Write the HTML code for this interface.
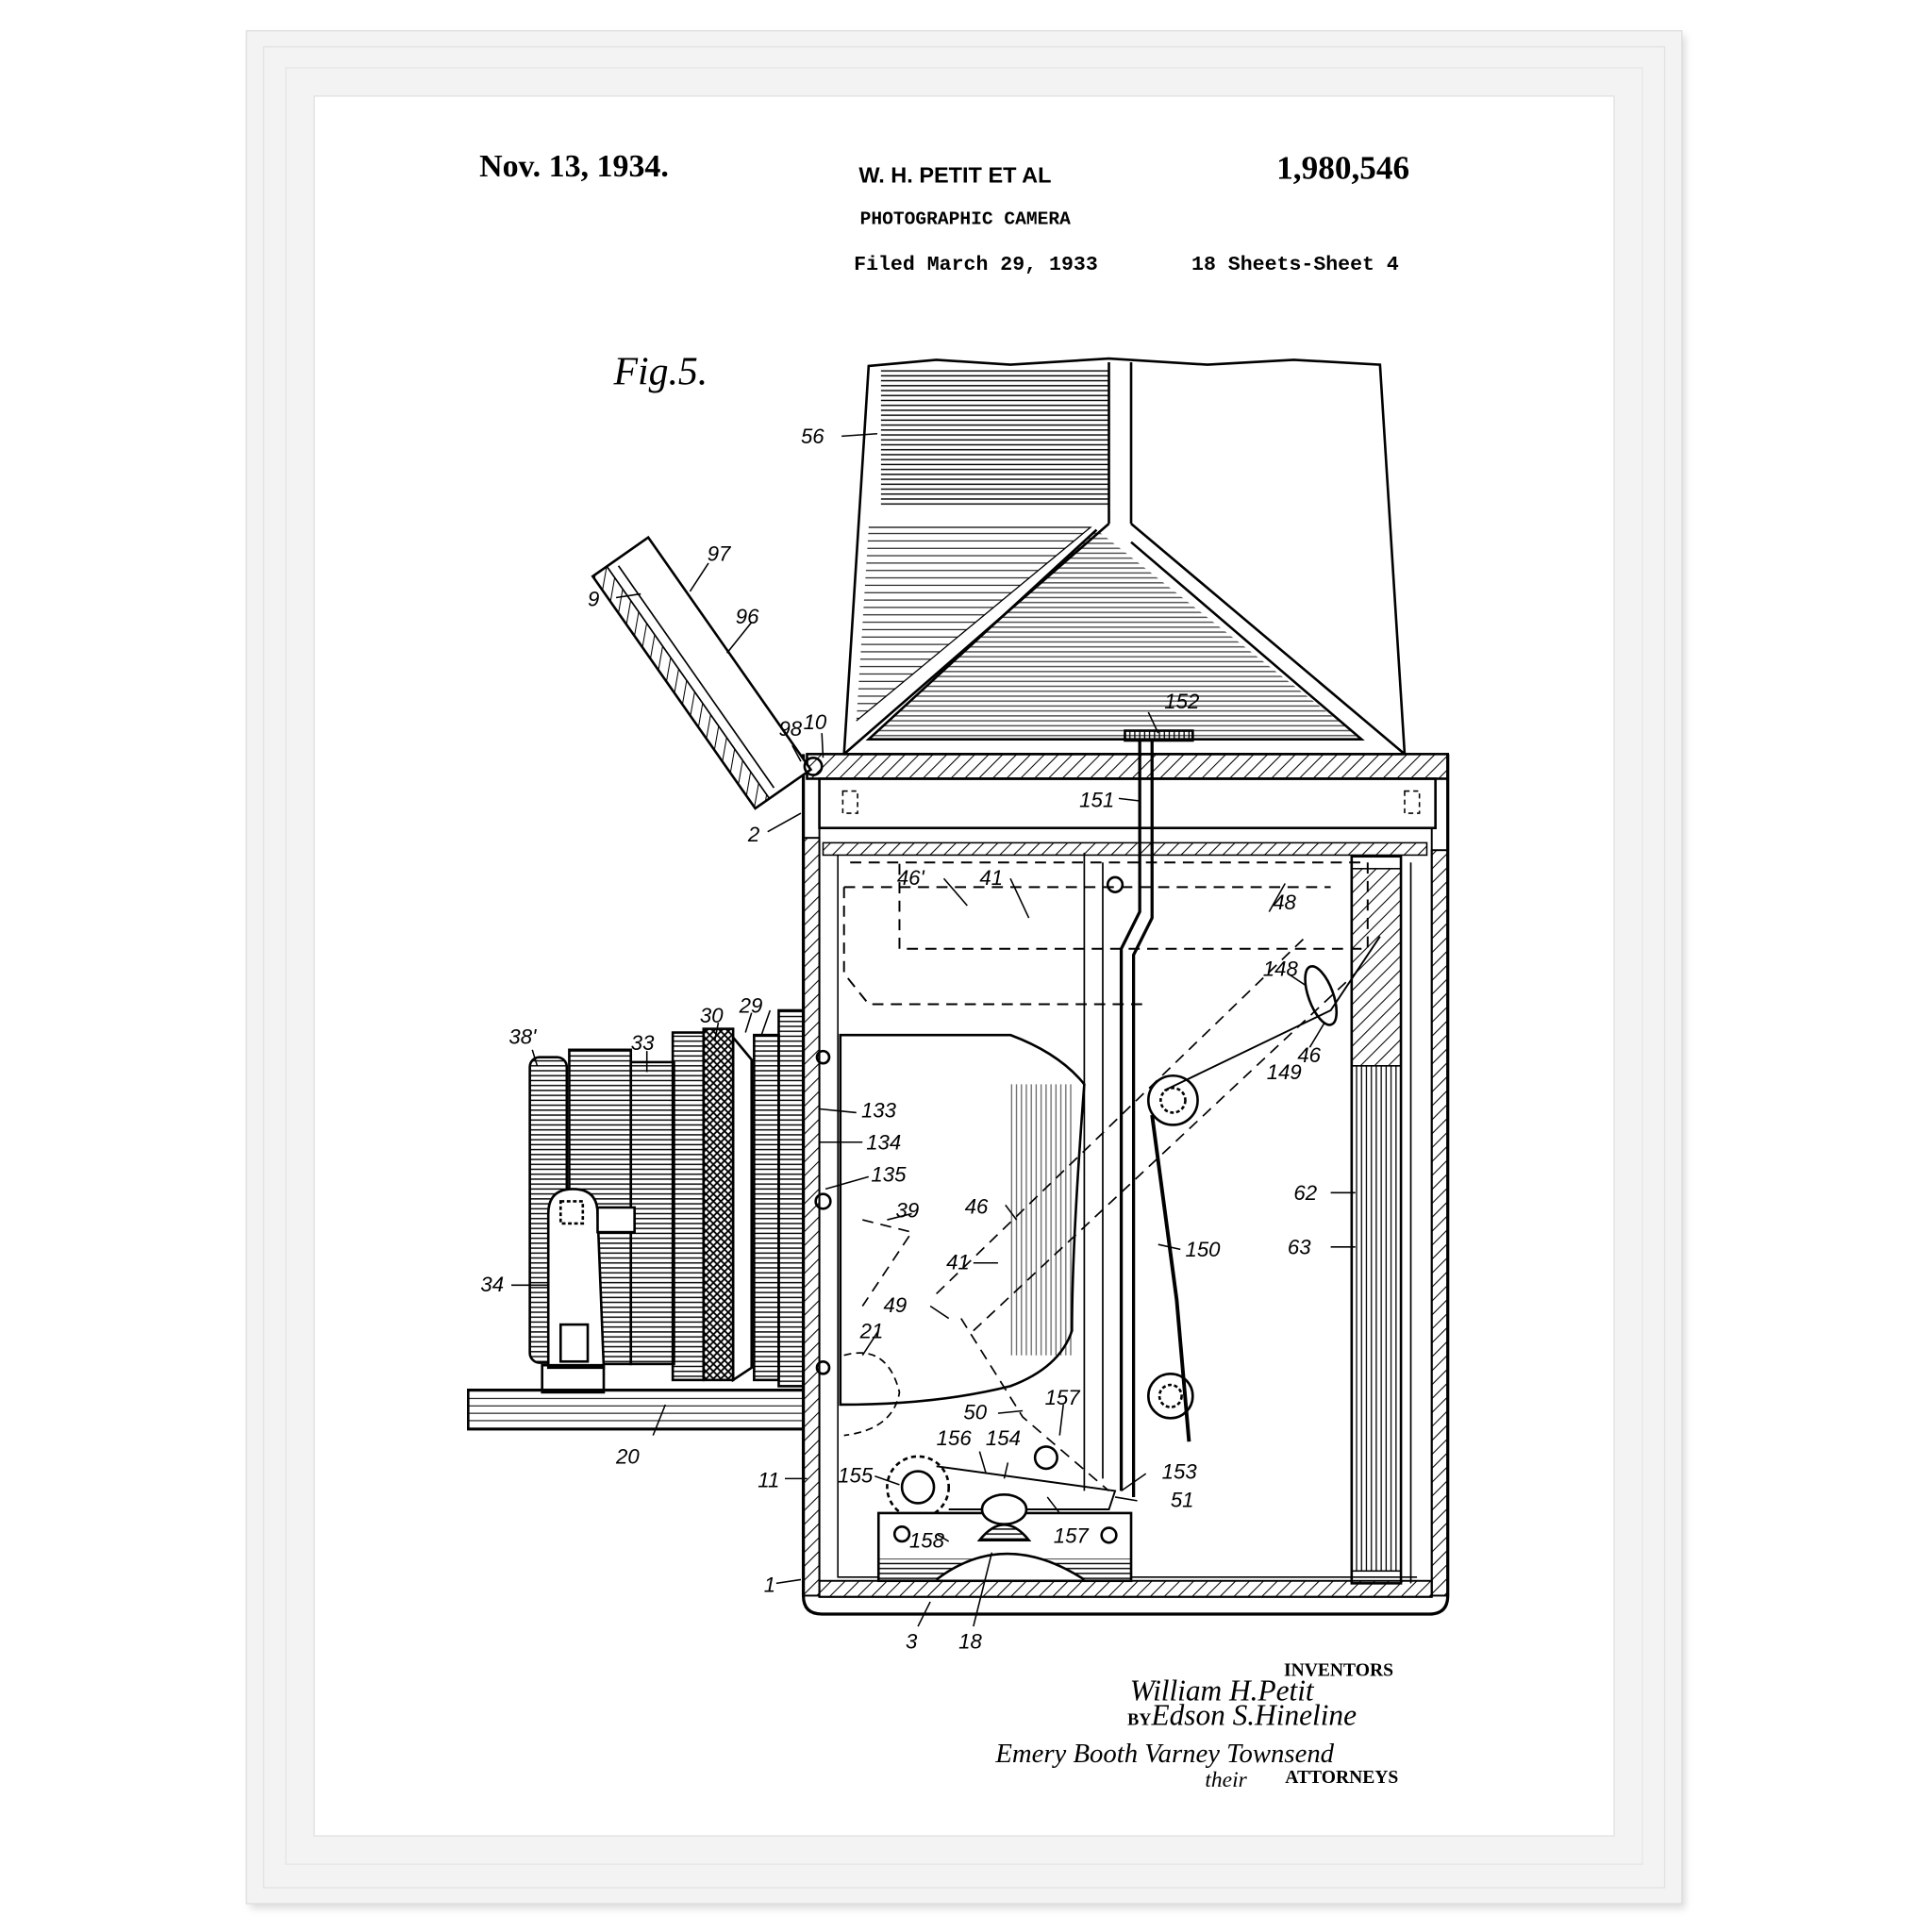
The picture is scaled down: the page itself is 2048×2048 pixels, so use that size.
<!DOCTYPE html>
<html><head><meta charset="utf-8"><style>
html,body{margin:0;padding:0;background:#fff;}
svg{display:block;}
</style></head><body>
<svg width="2048" height="2048" viewBox="0 0 1568 1568" xmlns="http://www.w3.org/2000/svg">
<defs>
<pattern id="diag" width="8" height="8" patternUnits="userSpaceOnUse" patternTransform="rotate(45)"><line x1="0" y1="0" x2="0" y2="8" stroke="#000" stroke-width="1.6"/></pattern>
<pattern id="hor" width="6" height="4" patternUnits="userSpaceOnUse"><line x1="0" y1="1" x2="6" y2="1" stroke="#000" stroke-width="1.1"/></pattern>
<pattern id="vert" width="4" height="6" patternUnits="userSpaceOnUse"><line x1="1" y1="0" x2="1" y2="6" stroke="#000" stroke-width="1"/></pattern>
<pattern id="xh" width="6" height="6" patternUnits="userSpaceOnUse"><path d="M0 0L6 6M6 0L0 6" stroke="#000" stroke-width="1.4"/></pattern>
<pattern id="hsp" width="8" height="6" patternUnits="userSpaceOnUse"><line x1="0" y1="1" x2="8" y2="1" stroke="#000" stroke-width="0.8"/></pattern>
<filter id="sh"><feGaussianBlur stdDeviation="3"/></filter>
</defs>
<rect width="1568" height="1568" fill="#fff"/>
<rect x="203" y="29" width="1165" height="1520" fill="#bbb" filter="url(#sh)" opacity="0.5"/>
<rect x="200" y="25" width="1165" height="1520" fill="#f3f3f3" stroke="#ddd"/>
<rect x="214" y="38" width="1137" height="1494" fill="none" stroke="#e2e2e2"/>
<rect x="232" y="55" width="1101" height="1458" fill="none" stroke="#e6e6e6"/>
<rect x="255" y="78" width="1055" height="1412" fill="#fff" stroke="#e0e0e0"/>

<g font-family="Liberation Serif, serif" font-weight="bold" fill="#000">
<text x="389" y="143" font-size="26">Nov. 13, 1934.</text>
<text x="1036" y="145" font-size="27">1,980,546</text>
</g>
<g font-family="Liberation Sans, sans-serif" font-weight="bold" fill="#000">
<text x="697" y="148" font-size="18">W. H. PETIT  ET AL</text>
</g>
<g font-family="Liberation Mono, monospace" font-weight="bold" fill="#000" font-size="15">
<text x="698" y="182">PHOTOGRAPHIC CAMERA</text>
<text x="693" y="219" font-size="16.5">Filed March 29, 1933</text>
<text x="967" y="219" font-size="16.5">18 Sheets-Sheet 4</text>
</g>
<text x="498" y="312" font-family="Liberation Serif, serif" font-style="italic" font-size="32" fill="#000">Fig.5.</text>

<g fill="none" stroke="#000" stroke-width="2">
<path d="M705 297 L760 292 L820 296 L900 291 L980 296 L1050 292 L1120 296 L1140 612 L685 612 Z" fill="#fff"/>
<rect x="715" y="300" width="185" height="112" fill="url(#hor)" stroke="none"/>
<path d="M900 294 L900 425 M918 294 L918 425"/>
<path d="M900 425 L685 612 M918 425 L1140 612"/>
<path d="M890 430 L705 600 L1105 600 L918 440" />
<path d="M890 430 L705 600 L1105 600 Z" stroke="none" fill="url(#hor)" opacity="0.7"/>
<path d="M705 428 L885 428 L695 585" fill="url(#hsp)" stroke-width="1"/>
<rect x="655" y="612" width="520" height="20" fill="url(#diag)"/>
<rect x="665" y="632" width="500" height="40"/>
<rect x="684" y="642" width="12" height="18" stroke-dasharray="4 3" stroke-width="1.2"/>
<rect x="1140" y="642" width="12" height="18" stroke-dasharray="4 3" stroke-width="1.2"/>
<path d="M652 612 L652 1295 Q652 1310 667 1310 L1160 1310 Q1175 1310 1175 1295 L1175 612" stroke-width="2.5"/>
<path d="M665 672 L665 1296 L1162 1296 L1162 672" stroke-width="1.5"/>
<rect x="652" y="680" width="13" height="615" fill="url(#diag)" stroke-width="1.5"/>
<rect x="665" y="1283" width="497" height="13" fill="url(#diag)" stroke-width="1.5"/>
<rect x="1162" y="690" width="13" height="605" fill="url(#diag)" stroke-width="1.5"/>
<rect x="668" y="684" width="490" height="10" fill="url(#diag)" stroke-width="1.2"/>
<path d="M680 694 L680 1280 L1150 1280" stroke-width="1.2"/>
<g transform="rotate(-35 640 625)">
<rect x="600" y="405" width="55" height="230" fill="#fff"/>
<rect x="600" y="405" width="14" height="230" fill="url(#diag)" stroke-width="1.3"/>
<line x1="622" y1="410" x2="622" y2="630" stroke-width="1.3"/>
</g>
<circle cx="660" cy="622" r="7"/>
<rect x="430" y="858" width="30" height="248" rx="8" fill="url(#hor)"/>
<rect x="462" y="852" width="50" height="255" fill="url(#hor)"/>
<rect x="512" y="862" width="35" height="245" fill="url(#hor)"/>
<rect x="546" y="838" width="25" height="282" fill="url(#hor)"/>
<rect x="571" y="835" width="24" height="285" fill="url(#xh)"/>
<path d="M595 842 L610 860 L610 1110 L595 1120 Z"/>
<rect x="612" y="840" width="20" height="280" fill="url(#hor)"/>
<rect x="632" y="820" width="20" height="305" fill="url(#hor)"/>
<path d="M445 1110 L445 985 Q445 965 465 965 Q485 965 485 985 L490 1110 Z" fill="#fff"/>
<rect x="455" y="975" width="18" height="18" stroke-dasharray="3 2"/>
<rect x="485" y="980" width="30" height="20" fill="#fff"/>
<rect x="455" y="1075" width="22" height="30"/>
<rect x="440" y="1108" width="50" height="22"/>
<rect x="380" y="1128" width="272" height="32" fill="url(#hsp)"/>
<path d="M682 840 L820 840 Q860 855 880 880 Q870 1010 870 1080 Q860 1110 820 1125 Q760 1140 682 1140 Z" fill="#fff"/>
<rect x="820" y="880" width="50" height="220" fill="url(#vert)" stroke="none" opacity="0.6"/>
<path d="M685 720 L1080 720 M685 720 L685 790 L705 815 L930 815" stroke-dasharray="9 6" stroke-width="1.5"/>
<path d="M690 700 L1110 700 L1110 770 L730 770 L730 700" stroke-dasharray="9 6" stroke-width="1.5"/>
<path d="M760 1050 L1060 760 M790 1080 L1100 790 M780 1070 L830 1150 L900 1210" stroke-dasharray="9 6" stroke-width="1.3"/>
<path d="M700 990 L740 1000 L700 1060" stroke-dasharray="9 6" stroke-width="1.3"/>
<path d="M880 692 L880 1210 M895 700 L895 1200" stroke-width="1.3"/>
<path d="M925 600 L925 740 L910 770 L910 1210 M935 600 L935 745 L920 775 L920 1215" stroke-width="2.5"/>
<rect x="913" y="593" width="55" height="8" fill="url(#vert)"/>
<circle cx="905" cy="718" r="6"/>
<rect x="1097" y="695" width="40" height="590" stroke-width="2"/>
<rect x="1097" y="705" width="40" height="160" fill="url(#diag)" stroke-width="1.2"/>
<rect x="1097" y="865" width="40" height="410" fill="url(#vert)" stroke-width="1.2"/>
<line x1="1145" y1="700" x2="1145" y2="1285" stroke-width="1.3"/>
<circle cx="952" cy="893" r="20"/><circle cx="952" cy="893" r="10" stroke-dasharray="3 2"/>
<circle cx="950" cy="1133" r="18"/><circle cx="950" cy="1133" r="9" stroke-dasharray="3 2"/>
<path d="M935 905 L955 1055 L965 1170" stroke-width="3"/>
<path d="M945 885 L1080 820 L1120 760" stroke-width="1.5"/>
<ellipse cx="1072" cy="808" rx="10" ry="25" transform="rotate(-20 1072 808)"/>
<circle cx="745" cy="1207" r="25" stroke-dasharray="4 3"/><circle cx="745" cy="1207" r="13"/>
<path d="M760 1190 L905 1210 L900 1225 L770 1225" stroke-width="1.5"/>
<circle cx="849" cy="1183" r="9"/>
<rect x="713" y="1228" width="205" height="55" fill="#fff"/>
<rect x="713" y="1265" width="205" height="18" fill="url(#hor)" stroke="none"/>
<path d="M760 1282 Q815 1240 880 1282" fill="#fff"/>
<path d="M795 1250 Q815 1225 835 1250 Z" fill="url(#hor)"/>
<ellipse cx="815" cy="1225" rx="18" ry="12" fill="#fff"/>
<circle cx="732" cy="1245" r="6"/><circle cx="900" cy="1246" r="6"/>
<path d="M685 1100 Q720 1090 730 1130 Q725 1160 685 1165" stroke-dasharray="6 4" stroke-width="1.3"/>
<circle cx="668" cy="975" r="6"/><circle cx="668" cy="858" r="5"/><circle cx="668" cy="1110" r="5"/>
</g>

<g stroke="#000" stroke-width="1.2" fill="none">
<path d="M683 354 L712 352 M500 485 L520 482 M575 457 L560 480 M610 505 L590 530 M643 605 L650 618 M667 595 L668 615 M623 675 L650 660 M908 648 L925 650 M932 578 L940 595 M766 713 L785 735 M820 713 L835 745 M1043 717 L1030 740 M1045 790 L1060 800 M1063 850 L1075 830 M1080 968 L1100 968 M1080 1012 L1100 1012 M958 1014 L940 1010 M695 903 L665 900 M700 927 L665 927 M705 955 L670 965 M740 985 L720 990 M816 978 L825 990 M810 1025 L790 1025 M755 1060 L770 1070 M713 1080 L700 1100 M530 1165 L540 1140 M637 1200 L655 1200 M415 1043 L445 1043 M432 852 L436 865 M525 853 L525 870 M583 830 L580 845 M610 822 L605 838 M625 820 L618 840 M810 1147 L830 1145 M863 1140 L860 1165 M710 1198 L730 1205 M795 1178 L800 1195 M818 1187 L815 1200 M930 1196 L910 1210 M923 1218 L905 1215 M860 1228 L850 1215 M770 1251 L760 1245 M745 1320 L755 1300 M790 1320 L805 1260 M630 1285 L650 1282"/>
</g>
<g font-family="Liberation Sans, sans-serif" font-style="italic" font-size="17" fill="#000">
<text x="650" y="360">56</text>
<text x="477" y="492">9</text>
<text x="574" y="455">97</text>
<text x="597" y="506">96</text>
<text x="632" y="597">98</text>
<text x="652" y="592">10</text>
<text x="607" y="683">2</text>
<text x="876" y="655">151</text>
<text x="945" y="575">152</text>
<text x="728" y="718">46'</text>
<text x="795" y="718">41</text>
<text x="1033" y="738">48</text>
<text x="1025" y="792">148</text>
<text x="1053" y="862">46</text>
<text x="1028" y="876">149</text>
<text x="1050" y="974">62</text>
<text x="1045" y="1018">63</text>
<text x="962" y="1020">150</text>
<text x="699" y="907">133</text>
<text x="703" y="933">134</text>
<text x="707" y="959">135</text>
<text x="727" y="988">39</text>
<text x="783" y="985">46</text>
<text x="768" y="1030">41</text>
<text x="717" y="1065">49</text>
<text x="698" y="1086">21</text>
<text x="782" y="1152">50</text>
<text x="848" y="1140">157</text>
<text x="760" y="1173">156</text>
<text x="800" y="1173">154</text>
<text x="680" y="1203">155</text>
<text x="943" y="1200">153</text>
<text x="950" y="1223">51</text>
<text x="855" y="1252">157</text>
<text x="738" y="1256">158</text>
<text x="500" y="1188">20</text>
<text x="615" y="1207">11</text>
<text x="620" y="1292">1</text>
<text x="735" y="1338">3</text>
<text x="778" y="1338">18</text>
<text x="390" y="1048">34</text>
<text x="413" y="847">38'</text>
<text x="512" y="852">33</text>
<text x="568" y="830">30</text>
<text x="600" y="822">29</text>
</g>
<text x="1042" y="1360" font-family="Liberation Serif, serif" font-weight="bold" font-size="15" fill="#000">INVENTORS</text>
<g font-family="Liberation Serif, serif" font-style="italic" font-size="24" fill="#000">
<text x="917" y="1380">William H.Petit</text>
<text x="915" y="1400"><tspan font-style="normal" font-weight="bold" font-size="14">BY</tspan>Edson S.Hineline</text>
<text x="808" y="1430" font-size="22">Emery Booth Varney Townsend</text>
<text x="978" y="1450" font-size="18">their</text>
</g>
<text x="1043" y="1447" font-family="Liberation Serif, serif" font-weight="bold" font-size="15" fill="#000">ATTORNEYS</text>
</svg>
</body></html>
